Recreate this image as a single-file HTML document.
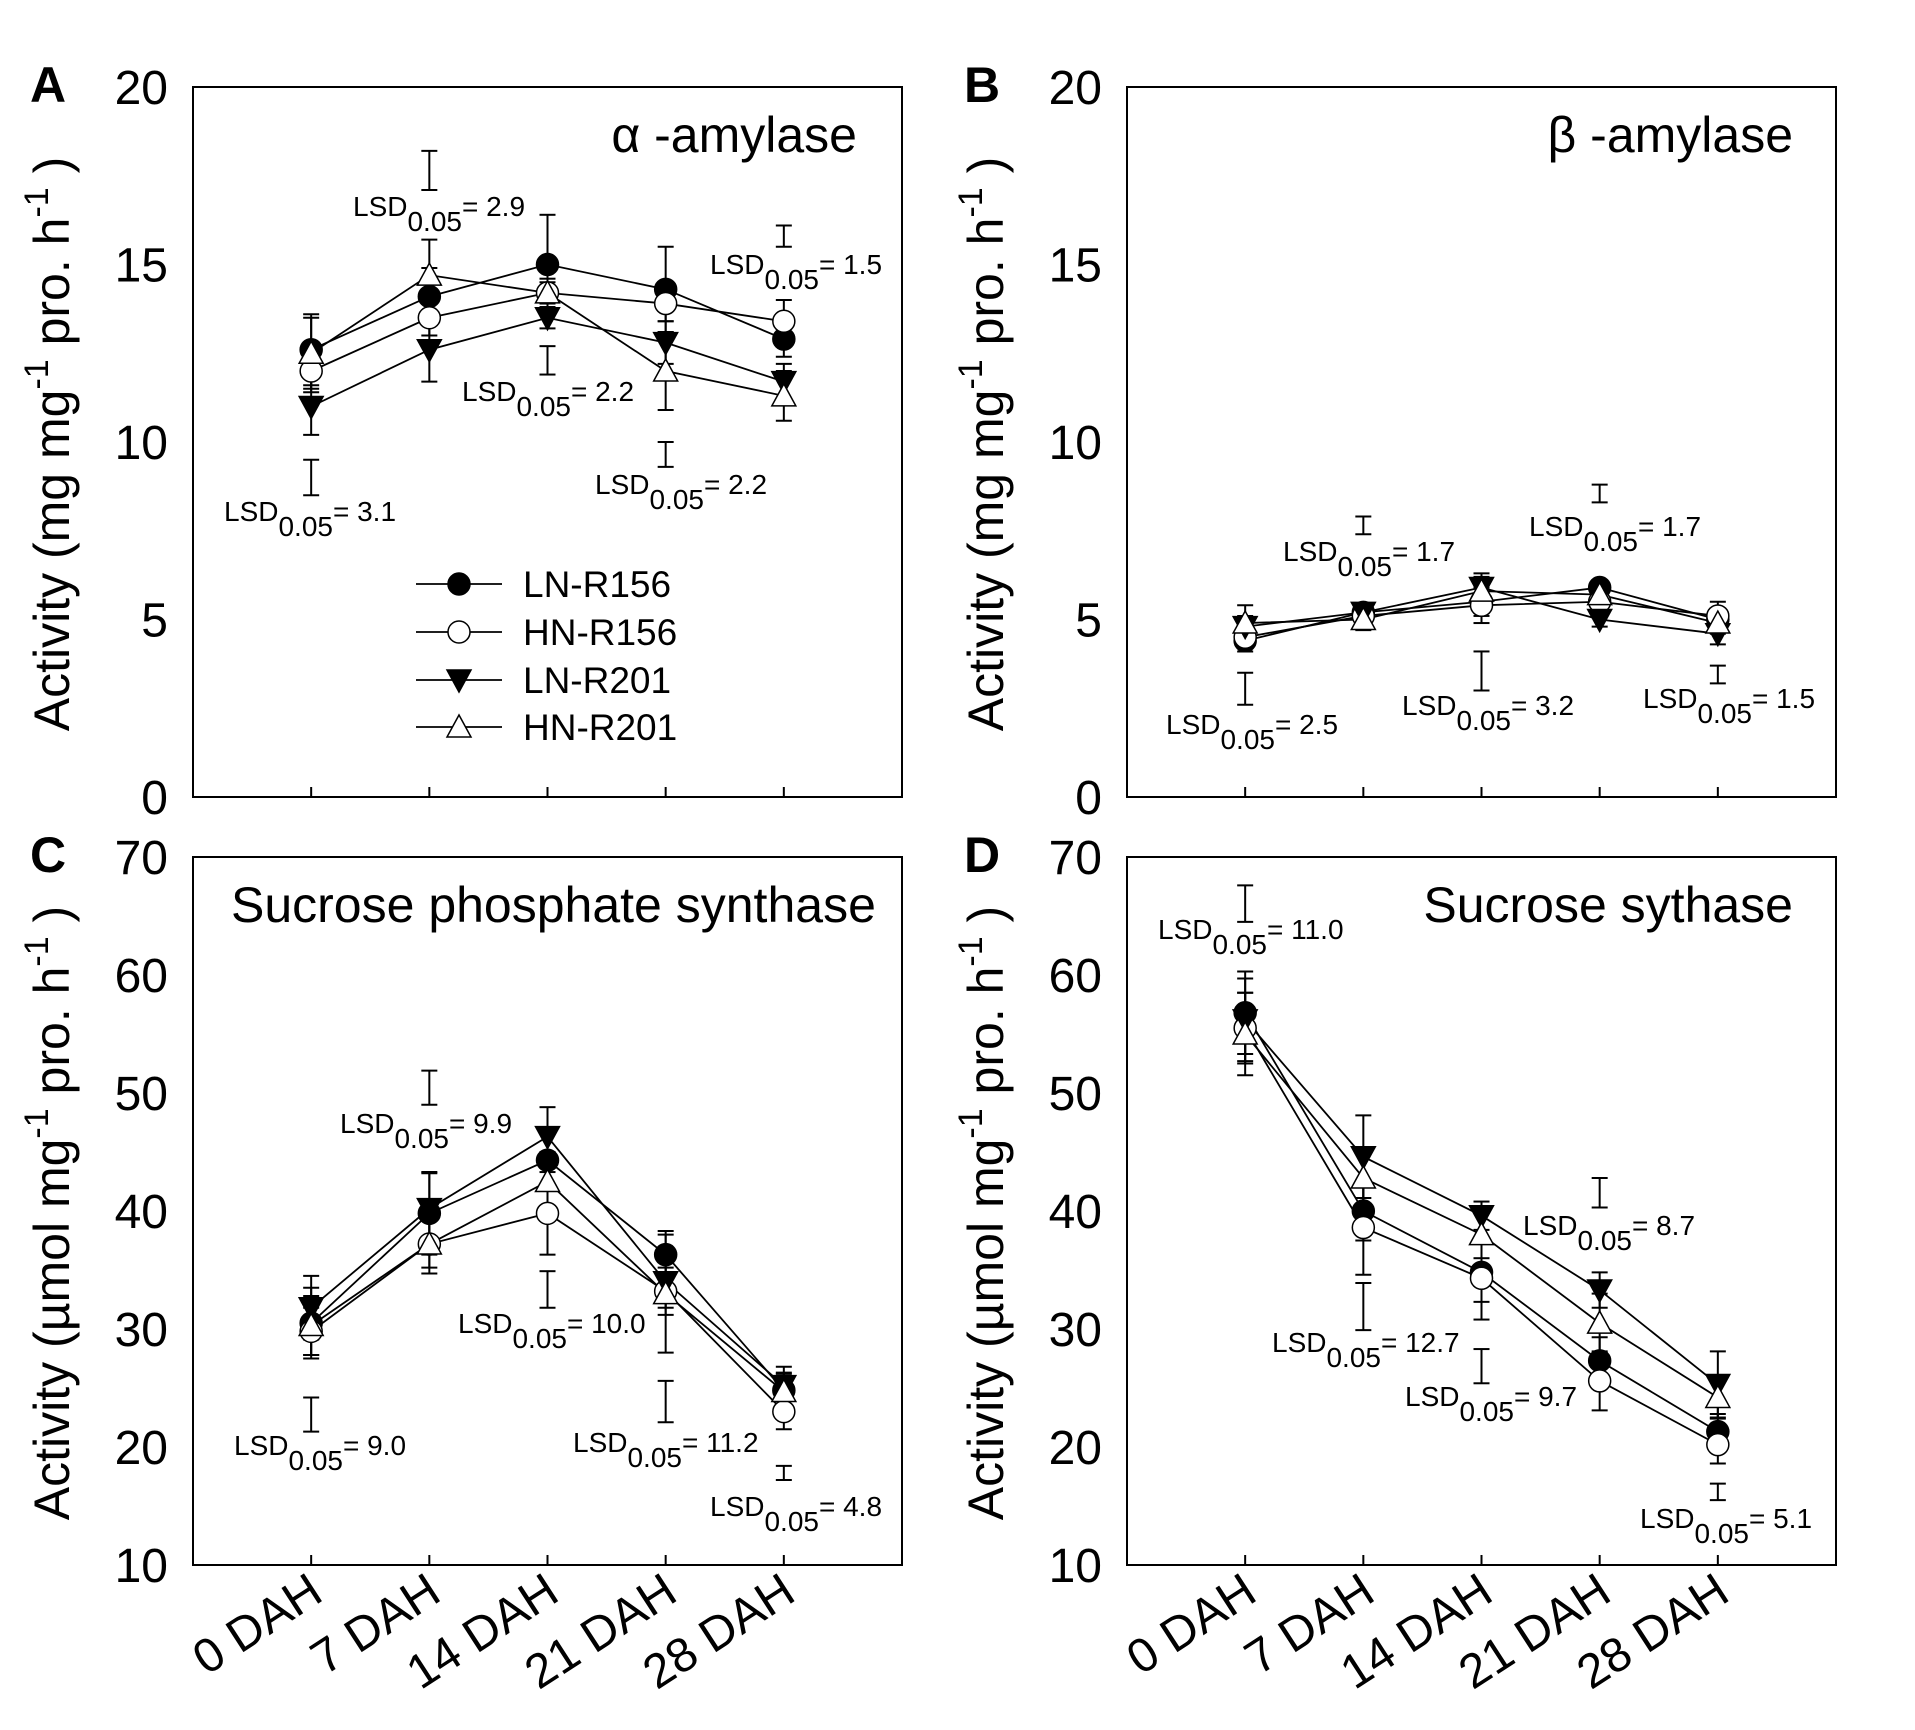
<!DOCTYPE html>
<html><head><meta charset="utf-8">
<style>
html,body{margin:0;padding:0;background:#fff;}
svg{display:block;font-family:"Liberation Sans",Arial,sans-serif;}
</style></head>
<body>
<svg id="fig" width="1915" height="1730" viewBox="0 0 1915 1730" xmlns="http://www.w3.org/2000/svg"></svg>
<script>
// ---- data ----
const categories = ["0 DAH","7 DAH","14 DAH","21 DAH","28 DAH"];
const seriesNames = ["LN-R156","HN-R156","LN-R201","HN-R201"];
const ticksAB = [0,5,10,15,20];
const ticksCD = [10,20,30,40,50,60,70];

const aLN156 = [12.6,14.1,15.0,14.3,12.9];
const aHN156 = [12.0,13.5,14.2,13.9,13.4];
const aLN201 = [11.0,12.6,13.5,12.8,11.7];
const aHN201 = [12.5,14.7,14.2,12.0,11.3];
const aErr = [[1.0,0.8,1.4,1.2,0.5],[0.6,0.5,0.4,0.5,0.6],[0.8,0.9,0.3,0.6,0.5],[1.0,1.0,0.3,1.1,0.7]];
const aLsdTop = [9.5,18.2,12.7,10.0,16.1];
const aLsdBot = [8.5,17.1,11.9,9.3,15.5];
const aLsdVal = ["3.1","2.9","2.2","2.2","1.5"];

const bLN156 = [4.4,5.2,5.5,5.9,5.0];
const bHN156 = [4.5,5.1,5.4,5.5,5.1];
const bLN201 = [4.8,5.2,5.9,5.0,4.6];
const bHN201 = [4.9,5.0,5.8,5.7,4.9];
const bErr = [[0.3,0.2,0.4,0.2,0.3],[0.3,0.2,0.5,0.3,0.4],[0.3,0.2,0.4,0.2,0.3],[0.5,0.3,0.4,0.3,0.3]];
const bLsdTop = [3.5,7.9,4.1,8.8,3.7];
const bLsdBot = [2.6,7.4,3.0,8.3,3.2];
const bLsdVal = ["2.5","1.7","3.2","1.7","1.5"];

const cLN156 = [30.5,39.8,44.3,36.3,24.8];
const cHN156 = [29.8,37.2,39.8,33.2,23.0];
const cLN201 = [31.8,40.2,46.3,34.0,25.2];
const cHN201 = [30.3,37.2,42.5,33.0,24.7];
const cErr = [[3.0,3.5,2.5,2.0,1.5],[2.0,2.0,3.5,2.0,1.5],[2.7,3.0,2.5,2.2,1.6],[2.5,2.5,2.5,5.0,1.5]];
const cLsdTop = [24.2,51.9,34.9,25.6,18.4];
const cLsdBot = [21.3,49.0,31.8,22.1,17.2];
const cLsdVal = ["9.0","9.9","10.0","11.2","4.8"];

const dLN156 = [56.8,40.0,34.8,27.3,21.3];
const dHN156 = [55.5,38.6,34.3,25.6,20.2];
const dLN201 = [56.2,44.6,39.6,33.3,25.3];
const dHN201 = [55.0,42.8,38.0,30.5,24.2];
const dErr = [[3.5,2.5,2.5,2.0,1.5],[3.0,4.0,3.5,2.5,1.6],[3.5,3.5,1.2,1.5,2.8],[3.5,2.5,2.0,2.5,1.8]];
const dLsdTop = [67.6,33.9,28.3,42.8,16.9];
const dLsdBot = [64.5,29.9,25.4,40.3,15.5];
const dLsdVal = ["11.0","12.7","9.7","8.7","5.1"];

const NS = "http://www.w3.org/2000/svg";
const svg = document.getElementById('fig');
function mk(tag, attrs, parent){
  const e = document.createElementNS(NS, tag);
  for (const k in attrs) e.setAttribute(k, attrs[k]);
  (parent||svg).appendChild(e);
  return e;
}

const panels = [
  {id:"a", letter:"A", left:193, top:87, bottom:797, ymin:0, ymax:20, ticks:ticksAB,
   series:[aLN156,aHN156,aLN201,aHN201], err:aErr, lt:aLsdTop, lb:aLsdBot, lv:aLsdVal,
   title:"α -amylase", titleX:857, titleY:152, titleAnchor:"end", unit:"mg", legend:true, xlabels:false,
   lsdPos:[[224,521],[353,216],[462,401],[595,494],[710,274]]},
  {id:"b", letter:"B", left:1127, top:87, bottom:797, ymin:0, ymax:20, ticks:ticksAB,
   series:[bLN156,bHN156,bLN201,bHN201], err:bErr, lt:bLsdTop, lb:bLsdBot, lv:bLsdVal,
   title:"β -amylase", titleX:1793, titleY:152, titleAnchor:"end", unit:"mg", legend:false, xlabels:false,
   lsdPos:[[1166,734],[1283,561],[1402,715],[1529,536],[1643,708]]},
  {id:"c", letter:"C", left:193, top:857, bottom:1565, ymin:10, ymax:70, ticks:ticksCD,
   series:[cLN156,cHN156,cLN201,cHN201], err:cErr, lt:cLsdTop, lb:cLsdBot, lv:cLsdVal,
   title:"Sucrose phosphate synthase", titleX:231, titleY:922, titleAnchor:"start", unit:"µmol", legend:false, xlabels:true,
   lsdPos:[[234,1455],[340,1133],[458,1333],[573,1452],[710,1516]]},
  {id:"d", letter:"D", left:1127, top:857, bottom:1565, ymin:10, ymax:70, ticks:ticksCD,
   series:[dLN156,dHN156,dLN201,dHN201], err:dErr, lt:dLsdTop, lb:dLsdBot, lv:dLsdVal,
   title:"Sucrose sythase", titleX:1793, titleY:922, titleAnchor:"end", unit:"µmol", legend:false, xlabels:true,
   lsdPos:[[1158,939],[1272,1352],[1405,1406],[1523,1235],[1640,1528]]}
];

function marker(g, kind, x, y){
  let e;
  if (kind===0) e = mk('circle',{cx:x,cy:y,r:11,fill:'#000',stroke:'#000','stroke-width':1.5},g);
  else if (kind===1) e = mk('circle',{cx:x,cy:y,r:11,fill:'#fff',stroke:'#000','stroke-width':1.5},g);
  else if (kind===2) e = mk('polygon',{points:`${x-12},${y-10} ${x+12},${y-10} ${x},${y+12}`,fill:'#000',stroke:'#000','stroke-width':1.5},g);
  else e = mk('polygon',{points:`${x-12},${y+10} ${x+12},${y+10} ${x},${y-12}`,fill:'#fff',stroke:'#000','stroke-width':1.5},g);
  return e;
}

function errbar(g, x, y1, y2){
  mk('line',{x1:x,y1:y1,x2:x,y2:y2,stroke:'#000','stroke-width':2},g);
  mk('line',{x1:x-8,y1:y1,x2:x+8,y2:y1,stroke:'#000','stroke-width':2},g);
  mk('line',{x1:x-8,y1:y2,x2:x+8,y2:y2,stroke:'#000','stroke-width':2},g);
}

panels.forEach(p=>{
  const W = 709;
  const xs = i => p.left + (i+1)*W/6;
  const ys = v => p.bottom - (v - p.ymin)/(p.ymax - p.ymin)*(p.bottom - p.top);
  const g = mk('g',{});
  
  

  const L = mk('text',{x:p.left-163,y:p.top+15,'font-size':50,'font-weight':'bold'},g);
  L.textContent = p.letter;
  
  

  const frame = mk('rect',{x:p.left,y:p.top,width:W,height:p.bottom-p.top,fill:'none',stroke:'#000','stroke-width':2},g);
  
  

  p.ticks.forEach(t=>{
    const y = ys(t);
    const tl = mk('text',{x:p.left-25,y:y+17,'font-size':48,'text-anchor':'end'},g);
    tl.textContent = t;
    
    
  });
  categories.forEach((c,i)=>{
    const x = xs(i);
    const tk = mk('line',{x1:x,y1:p.bottom,x2:x,y2:p.bottom-10,stroke:'#000','stroke-width':2},g);
    
    
    if (p.xlabels){
      const xl = mk('text',{x:0,y:0,'font-size':48,'text-anchor':'end',transform:`translate(${x+14},${p.bottom+34}) rotate(-33)`},g);
      xl.textContent = c;
      
      
    }
  });

  const cy = (p.top + p.bottom)/2 + 2;
  const yt = mk('text',{x:0,y:0,'font-size':50,'text-anchor':'middle',transform:`translate(${p.left-124},${cy}) rotate(-90)`},g);
  
  
  const seq = [["Activity ("+p.unit+" mg",0,0],["-1",1,-21],["  pro. h",0,21],["-1",1,-21],["  )",0,21]];
  seq.forEach(([t,sup,dy])=>{
    const ts = mk('tspan', {dy:dy,'font-size':sup?34:50}, yt);
    ts.textContent = t;
  });

  const tt = mk('text',{x:p.titleX,y:p.titleY,'font-size':50,'text-anchor':p.titleAnchor},g);
  tt.textContent = p.title;
  
  

  p.lt.forEach((v,i)=>{
    const lg = mk('g',{},g);
    
    
    errbar(lg, xs(i), ys(p.lt[i]), ys(p.lb[i]));
    const [lx,ly] = p.lsdPos[i];
    const t = mk('text',{x:lx,y:ly,'font-size':28},g);
    
    
    const a = mk('tspan',{},t); a.textContent = "LSD";
    const b = mk('tspan',{dy:15},t); b.textContent = "0.05";
    const c = mk('tspan',{dy:-15},t); c.textContent = "= "+p.lv[i];
  });

  p.series.forEach((vals,s)=>{
    const sg = mk('g',{},g);
    
    
    vals.forEach((v,i)=>{
      errbar(sg, xs(i), ys(v + p.err[s][i]), ys(v - p.err[s][i]));
    });
    const pts = vals.map((v,i)=>xs(i)+','+ys(v)).join(' ');
    const pl = mk('polyline',{points:pts,fill:'none',stroke:'#000','stroke-width':1.8},sg);
    
    
  });
  p.series.forEach((vals,s)=>{
    vals.forEach((v,i)=>{
      const m = marker(g, s, xs(i), ys(v));
      
      
    });
  });

  if (p.legend){
    const lg = mk('g',{},g);
    
    
    const rowsY = [584,632,680,727];
    seriesNames.forEach((n,s)=>{
      const y = rowsY[s];
      const e = mk('g',{},lg);
      
      
      mk('line',{x1:416,y1:y,x2:502,y2:y,stroke:'#000','stroke-width':1.8},e);
      marker(e, s, 459, y);
      const t = mk('text',{x:523,y:y+13,'font-size':37},e);
      t.textContent = n;
    });
  }
});
</script>
</body></html>
